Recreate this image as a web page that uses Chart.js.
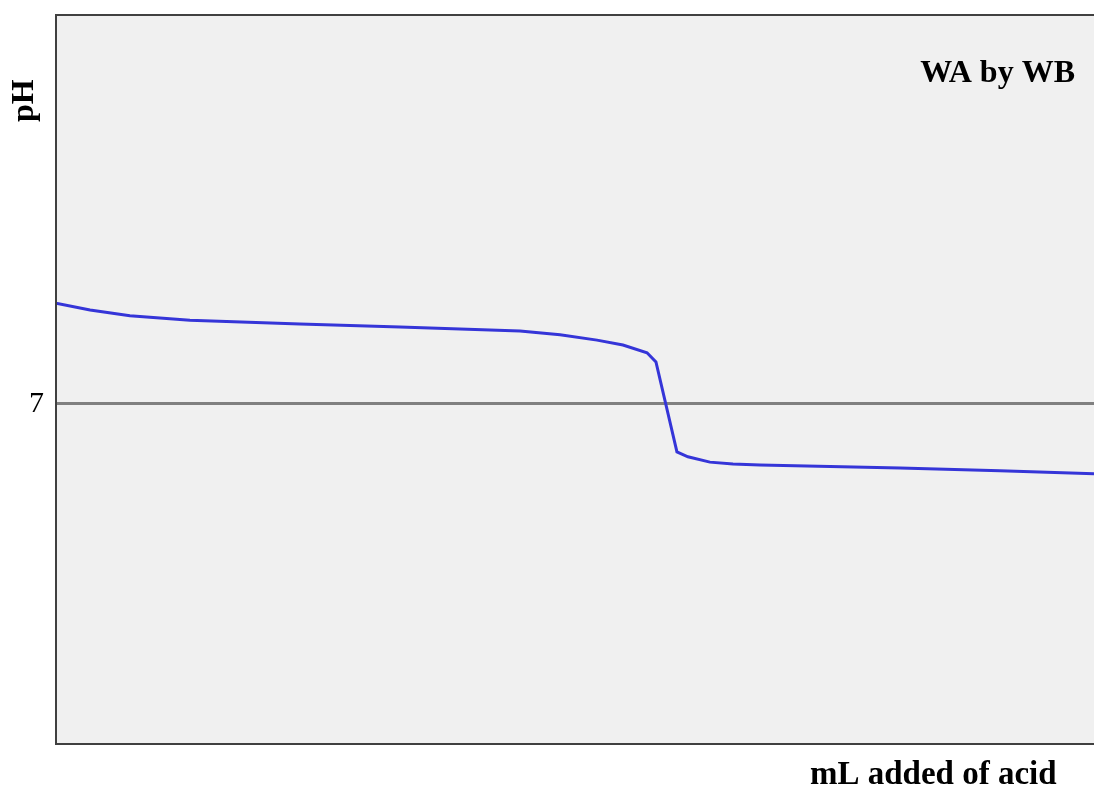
<!DOCTYPE html>
<html>
<head>
<meta charset="utf-8">
<title>WA by WB</title>
<script src="https://cdn.jsdelivr.net/npm/chart.js@4"></script>
<style>
  html, body { margin: 0; padding: 0; background: #ffffff; }
  #wrap { width: 1094px; height: 787px; position: relative; }
</style>
</head>
<body>
<div id="wrap"><canvas id="myChart"></canvas></div>
<script>
// Titration data (mL of acid added vs pH)
const mlAdded = [0, 1.64, 3.56, 6.45, 11.75, 16.57, 22.35, 24.28, 26.06, 27.31, 28.47, 28.90, 29.91, 30.44, 31.50, 32.61, 33.91, 40.66, 45.47, 50];
const phValues = [9.07, 8.93, 8.81, 8.72, 8.64, 8.58, 8.50, 8.42, 8.31, 8.21, 8.05, 7.86, 6.01, 5.91, 5.80, 5.76, 5.74, 5.68, 5.62, 5.56];
const yTicks = [7];
const chartTitle = 'WA by WB';
const xTitle = 'mL added of acid';
const yTitle = 'pH';

const serif = '"Liberation Serif", "Times New Roman", serif';

// background, frame and text labels
const framePlugin = {
    id: 'frame',
    beforeDraw(chart) {
        const { ctx, chartArea: a } = chart;
        ctx.save();
        ctx.fillStyle = '#f0f0f0';
        ctx.fillRect(a.left, a.top, a.right - a.left, a.bottom - a.top);
        ctx.restore();
    },
    afterDraw(chart) {
        const { ctx, chartArea: a } = chart;
        ctx.save();
        ctx.strokeStyle = '#404040';
        ctx.lineWidth = 2;
        ctx.beginPath();
        ctx.moveTo(a.right + 2, a.top);
        ctx.lineTo(a.left, a.top);
        ctx.lineTo(a.left, a.bottom);
        ctx.lineTo(a.right + 2, a.bottom);
        ctx.stroke();

        ctx.fillStyle = '#000000';
        ctx.font = 'bold 32px ' + serif;
        ctx.textBaseline = 'alphabetic';
        ctx.textAlign = 'right';
        ctx.fillText(chartTitle, 1075, 82);

        ctx.save();
        ctx.translate(33, 122);
        ctx.rotate(-Math.PI / 2);
        ctx.textAlign = 'left';
        ctx.fillText(yTitle, 0, 0);
        ctx.restore();

        ctx.font = 'bold 33px ' + serif;
        ctx.textAlign = 'left';
        ctx.fillText(xTitle, 810, 784);
        ctx.restore();
    }
};

let ctx = document.getElementById('myChart').getContext('2d');
let myChart = new Chart(ctx, {
    type: 'line',
    data: {
        datasets: [{
            label: 'pH',
            data: mlAdded.map((x, i) => ({ x: x, y: phValues[i] })),
            borderColor: '#3535d8',
            borderWidth: 3,
            pointRadius: 0,
            tension: 0,
            fill: false
        }]
    },
    options: {
        responsive: true,
        maintainAspectRatio: false,
        animation: false,
        layout: { padding: { top: 15, right: 0, left: 0, bottom: 0 } },
        plugins: {
            legend: { display: false },
            tooltip: { enabled: false }
        },
        scales: {
            x: {
                type: 'linear',
                min: 0,
                max: 50,
                ticks: { display: false },
                grid: { display: false },
                border: { display: false },
                afterFit: function(scale) { scale.height = 43; }
            },
            y: {
                type: 'linear',
                min: 0,
                max: 15,
                afterBuildTicks: function(scale) {
                    scale.ticks = yTicks.map(v => ({ value: v }));
                },
                ticks: {
                    color: '#000000',
                    padding: 12,
                    font: { family: serif, size: 30 }
                },
                grid: {
                    drawTicks: false,
                    color: '#808080',
                    lineWidth: 3
                },
                border: { display: false },
                afterFit: function(scale) {
                    scale.width = 56;
                    scale.paddingTop = 0;
                    scale.paddingBottom = 0;
                }
            }
        }
    },
    plugins: [framePlugin]
});
</script>
</body>
</html>
